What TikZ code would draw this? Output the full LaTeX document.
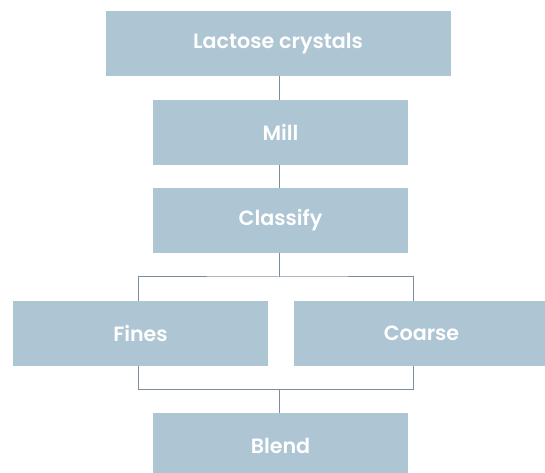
\documentclass[tikz,border=0pt]{standalone}
\usepackage{fontspec}
\setmainfont{Poppins}[BoldFont={Poppins SemiBold}]
\usepackage{tikz}
\usetikzlibrary{positioning}
\definecolor{boxblue}{HTML}{AEC5D4}
\definecolor{linegrey}{HTML}{7B8D9C}

\begin{document}
\begin{tikzpicture}[x=0.75pt,y=0.75pt,yscale=-1,
	stepbox/.style={rectangle, fill=boxblue, text=white, font=\bfseries\fontsize{15.5}{18}\selectfont,
		minimum width=191.25pt, minimum height=48.75pt, inner sep=0pt},
	link/.style={draw=linegrey, line width=0.75pt}]
	%set diagram to 545 x 473
	\clip (0,0) rectangle (545,473);
	
	\node[stepbox, minimum width=258.75pt] (lactose) at (278,43.5) {Lactose crystals};
	\node[stepbox] (mill) at (280.5,132.5) {Mill};
	\node[stepbox] (classify) at (280.5,220.5) {Classify};
	\node[stepbox] (fines) at (140.5,333.5) {Fines};
	\node[stepbox] (coarse) at (421.5,333.5) {Coarse};
	\node[stepbox] (blend) at (280.5,445.5) {Blend};
	
	\coordinate (split) at (279,277);
	\coordinate (join) at (279,389.5);
	
	\draw[link] (lactose.south -| split) -- (mill.north -| split);
	\draw[link] (mill.south -| split) -- (classify.north -| split);
	\draw[link] (classify.south -| split) -- (split);
	\draw[link] ([xshift=-1.5pt]fines.north) |- (split) -| ([xshift=-6pt]coarse.north);
	\draw[link] ([xshift=-1.5pt]fines.south) |- (join) -| ([xshift=-6pt]coarse.south);
	\draw[link] (join) -- (blend.north -| join);
	
\end{tikzpicture}
\end{document}
